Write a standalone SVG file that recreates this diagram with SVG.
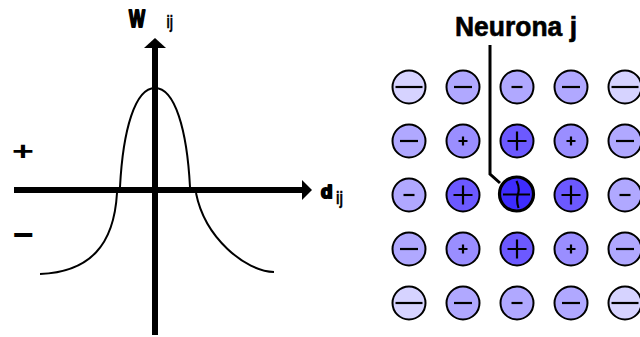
<svg xmlns="http://www.w3.org/2000/svg" width="640" height="337" viewBox="0 0 640 337">
<style>
.lbl{font-family:"Liberation Sans",Arial,sans-serif;font-weight:bold;fill:#000}
.heavy{stroke:#000;stroke-width:2;stroke-linejoin:round}
.n{stroke:#000;stroke-width:2}
.c0{fill:#D6D3FF}.c1{fill:#B0A8FF}.c2{fill:#9A8EFF}.c3{fill:#6C59FF}.c4{fill:#3E2CFF}
.s{stroke:#000;stroke-width:2.2;fill:none}
.axis{stroke:#000;stroke-width:6;fill:none}
</style>
<rect width="640" height="337" fill="#fff"/>
<g id="graph">
<line class="axis" x1="155" y1="46" x2="155" y2="335"/>
<polygon points="155,38 144,48 166,48" fill="#000"/>
<line class="axis" x1="14" y1="190" x2="304" y2="190"/>
<polygon points="312,190 302,180 302,200" fill="#000"/>
<path d="M40,274 C90,272 114,245 117,193 M120,187 C123,130 135,88 155,88 C175,88 187,130 190,187 M196,193 C205,238 245,271 274,272" fill="none" stroke="#000" stroke-width="2"/>
<text class="lbl heavy" x="129" y="26.5" font-size="24.5" textLength="16" lengthAdjust="spacingAndGlyphs">W</text>
<text class="lbl" x="166.5" y="28" font-size="19" textLength="6.5" lengthAdjust="spacingAndGlyphs" stroke="#000" stroke-width="0.4">ij</text>
<text class="lbl heavy" x="321" y="197.5" font-size="18" textLength="11.5" lengthAdjust="spacingAndGlyphs">d</text>
<text class="lbl" x="336" y="204" font-size="19" textLength="7" lengthAdjust="spacingAndGlyphs" stroke="#000" stroke-width="0.4">ij</text>
<text class="lbl" x="23" y="162" font-size="30" text-anchor="middle" transform="translate(23 151) scale(1.25 0.85) translate(-23 -151)">+</text>
<text class="lbl" x="23" y="247" font-size="36" text-anchor="middle">−</text>
</g>
<g id="connectors">
<polyline points="490,45 490,174 500,183" fill="none" stroke="#000" stroke-width="3"/>
</g>
<g id="label-neurona">
<text class="lbl" x="455" y="36" font-size="27" textLength="122" lengthAdjust="spacingAndGlyphs" stroke="#000" stroke-width="0.6">Neurona j</text>
</g>
<!-- row 1 -->
<g id="n11"><circle class="n c0" cx="409" cy="87" r="16.5"/><line class="s" x1="395.5" y1="87" x2="422.5" y2="87"/></g>
<g id="n12"><circle class="n c1" cx="463" cy="87" r="16.5"/><line class="s" x1="454" y1="87" x2="472" y2="87"/></g>
<g id="n13"><circle class="n c1" cx="517" cy="87" r="16.5"/><line class="s" x1="511.5" y1="87" x2="522.5" y2="87"/></g>
<g id="n14"><circle class="n c1" cx="571" cy="87" r="16.5"/><line class="s" x1="562" y1="87" x2="580" y2="87"/></g>
<g id="n15"><circle class="n c0" cx="625" cy="87" r="16.5"/><line class="s" x1="611.5" y1="87" x2="638.5" y2="87"/></g>
<!-- row 2 -->
<g id="n21"><circle class="n c1" cx="409" cy="141" r="16.5"/><line class="s" x1="400" y1="141" x2="418" y2="141"/></g>
<g id="n22"><circle class="n c2" cx="463" cy="141" r="16.5"/><path class="s" d="M458.5,141 H467.5 M463,136.5 V145.5"/></g>
<g id="n23"><circle class="n c3" cx="517" cy="141" r="16.5"/><path class="s" stroke-width="2.6" d="M507.5,141 H526.5 M517,131.5 V150.5"/></g>
<g id="n24"><circle class="n c2" cx="571" cy="141" r="16.5"/><path class="s" d="M566.5,141 H575.5 M571,136.5 V145.5"/></g>
<g id="n25"><circle class="n c1" cx="625" cy="141" r="16.5"/><line class="s" x1="616" y1="141" x2="634" y2="141"/></g>
<!-- row 3 -->
<g id="n31"><circle class="n c1" cx="409" cy="195" r="16.5"/><line class="s" x1="403.5" y1="195" x2="414.5" y2="195"/></g>
<g id="n32"><circle class="n c3" cx="463" cy="195" r="16.5"/><path class="s" stroke-width="2.6" d="M453.5,195 H472.5 M463,185.5 V204.5"/></g>
<g id="neurona-j"><circle cx="516.5" cy="194" r="17" fill="#3E2CFF" stroke="#000" stroke-width="3.2"/><path class="s" stroke-width="2.4" d="M503,194.5 H530 M516.5,181 Q520,188 518,194 Q516,200 518.5,208"/></g>
<g id="n34"><circle class="n c3" cx="571" cy="195" r="16.5"/><path class="s" stroke-width="2.6" d="M561.5,195 H580.5 M571,185.5 V204.5"/></g>
<g id="n35"><circle class="n c1" cx="625" cy="195" r="16.5"/><line class="s" x1="619.5" y1="195" x2="630.5" y2="195"/></g>
<!-- row 4 -->
<g id="n41"><circle class="n c1" cx="409" cy="249" r="16.5"/><line class="s" x1="400" y1="249" x2="418" y2="249"/></g>
<g id="n42"><circle class="n c2" cx="463" cy="249" r="16.5"/><path class="s" d="M458.5,249 H467.5 M463,244.5 V253.5"/></g>
<g id="n43"><circle class="n c3" cx="517" cy="249" r="16.5"/><path class="s" stroke-width="2.6" d="M507.5,249 H526.5 M517,239.5 V258.5"/></g>
<g id="n44"><circle class="n c2" cx="571" cy="249" r="16.5"/><path class="s" d="M566.5,249 H575.5 M571,244.5 V253.5"/></g>
<g id="n45"><circle class="n c1" cx="625" cy="249" r="16.5"/><line class="s" x1="616" y1="249" x2="634" y2="249"/></g>
<!-- row 5 -->
<g id="n51"><circle class="n c0" cx="409" cy="303" r="16.5"/><line class="s" x1="395.5" y1="303" x2="422.5" y2="303"/></g>
<g id="n52"><circle class="n c1" cx="463" cy="303" r="16.5"/><line class="s" x1="454" y1="303" x2="472" y2="303"/></g>
<g id="n53"><circle class="n c1" cx="517" cy="303" r="16.5"/><line class="s" x1="511.5" y1="303" x2="522.5" y2="303"/></g>
<g id="n54"><circle class="n c1" cx="571" cy="303" r="16.5"/><line class="s" x1="562" y1="303" x2="580" y2="303"/></g>
<g id="n55"><circle class="n c0" cx="625" cy="303" r="16.5"/><line class="s" x1="611.5" y1="303" x2="638.5" y2="303"/></g>
</svg>
